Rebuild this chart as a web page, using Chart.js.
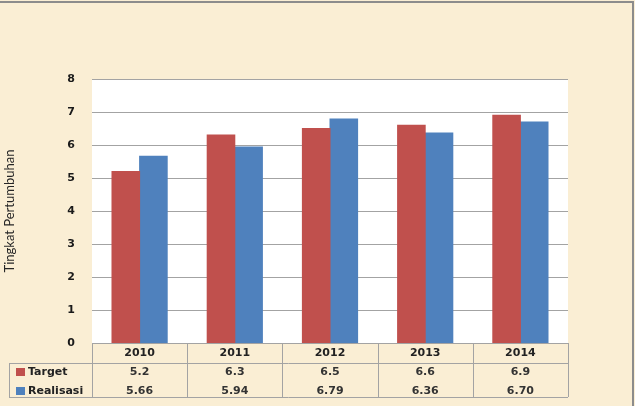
<!DOCTYPE html>
<html>
<head>
<meta charset="utf-8">
<script src="https://cdn.jsdelivr.net/npm/chart.js@4/dist/chart.umd.min.js"></script>
<style>
  body { margin: 0; background: #faeed4; }
  #wrap { position: absolute; left: 0; top: 1px; width: 632px; height: 405px;
          border-top: 2px solid #8c8c8c; border-right: 2px solid #8c8c8c; }
  #chart { position: absolute; left: 0; top: 0; }
</style>
</head>
<body>
<div id="wrap"></div>
<canvas id="chart" width="635" height="406"></canvas>
<script>
 const years = ['2010', '2011', '2012', '2013', '2014'];
 const target = [5.2, 6.3, 6.5, 6.6, 6.9];
 const realisasi = [5.66, 5.94, 6.79, 6.36, 6.70];
 const targetText = ['5.2', '6.3', '6.5', '6.6', '6.9'];
 const realisasiText = ['5.66', '5.94', '6.79', '6.36', '6.70'];

 const red = '#c0504d';
 const blue = '#4f81bd';
 const lineCol = '#a3a3a3';

 // white plot area
 const plotBg = {
    id: 'plotBg',
    beforeDraw(chart) {
       const a = chart.chartArea;
       const ctx = chart.ctx;
       ctx.save();
       ctx.fillStyle = '#ffffff';
       ctx.fillRect(a.left, a.top, a.right - a.left, a.bottom - a.top);
       ctx.restore();
    }
 };

 // excel style data table under the bars
 const dataTable = {
    id: 'dataTable',
    afterDraw(chart) {
       const ctx = chart.ctx;
       const x = chart.scales.x;
       const a = chart.chartArea;
       const catW = (a.right - a.left) / years.length;
       const rowTop = a.bottom, row1 = a.bottom + 20, row2 = a.bottom + 54;
       const labelLeft = 9;
       ctx.save();
       ctx.strokeStyle = lineCol;
       ctx.lineWidth = 1;
       ctx.beginPath();
       for (let i = 0; i <= years.length; i++) {
          const lx = Math.round(a.left + i * catW) + 0.5;
          ctx.moveTo(lx, rowTop);
          ctx.lineTo(lx, row2);
       }
       ctx.moveTo(labelLeft + 0.5, row1);
       ctx.lineTo(labelLeft + 0.5, row2);
       ctx.moveTo(labelLeft, row1 + 0.5);
       ctx.lineTo(a.right, row1 + 0.5);
       ctx.moveTo(labelLeft, row2 + 0.5);
       ctx.lineTo(a.right, row2 + 0.5);
       ctx.moveTo(a.left, rowTop + 0.5);
       ctx.lineTo(a.right, rowTop + 0.5);
       ctx.stroke();

       ctx.fillStyle = '#222222';
       ctx.textAlign = 'center';
       ctx.textBaseline = 'middle';
       years.forEach((y, i) => {
          const cx = x.getPixelForValue(i);
          ctx.font = 'bold 11px "DejaVu Sans"';
          ctx.fillText(y, cx, rowTop + 10);
          ctx.fillStyle = '#333333';
          ctx.fillText(targetText[i], cx, row1 + 9);
          ctx.fillText(realisasiText[i], cx, row1 + 28);
          ctx.fillStyle = '#222222';
       });

       ctx.textAlign = 'left';
       ctx.font = 'bold 11px "DejaVu Sans"';
       ctx.fillStyle = red;
       ctx.fillRect(16, row1 + 5, 9, 8);
       ctx.fillStyle = blue;
       ctx.fillRect(16, row1 + 24, 9, 8);
       ctx.fillStyle = '#222222';
       ctx.fillText('Target', 28, row1 + 9);
       ctx.fillText('Realisasi', 28, row1 + 28);
       ctx.restore();
    }
 };

 const barData = {
    labels: years,
    datasets: [{
          label: 'Target',
          backgroundColor: red,
          data: target
       },{
          label: 'Realisasi',
          backgroundColor: blue,
          data: realisasi
       }
    ]
 };

 const barConfig = {
    type: 'bar',
    data: barData,
    options: {
      responsive: false,
      animation: false,
      devicePixelRatio: 1,
      categoryPercentage: 0.58,
      barPercentage: 1.0,
      inflateAmount: 0.5,
      layout: {
         padding: { top: 79, bottom: 63, right: 67, left: 0 }
      },
      scales: {
         x: {
           display: false
         },
         y: {
           min: 0,
           max: 8,
           afterFit: (scale) => { scale.width = 92; },
           border: { display: false },
           grid: {
              color: lineCol,
              drawTicks: false
           },
           ticks: {
              stepSize: 1,
              padding: 17,
              color: '#1a1a1a',
              font: { family: 'DejaVu Sans', size: 11, weight: 'bold' }
           },
           title: {
              text: 'Tingkat Pertumbuhan',
              display: true,
              color: '#262626',
              padding: { top: 2, bottom: 0 },
              font: { family: '"Liberation Sans Narrow", Lato', size: 13, weight: 'normal' }
           }
         }
      },
      plugins: {
         legend: { display: false },
         tooltip: { enabled: false }
      }
    },
    plugins: [plotBg, dataTable]
 };

 const barChart = new Chart(
    document.getElementById('chart'),
    barConfig
 );
</script>
</body>
</html>
